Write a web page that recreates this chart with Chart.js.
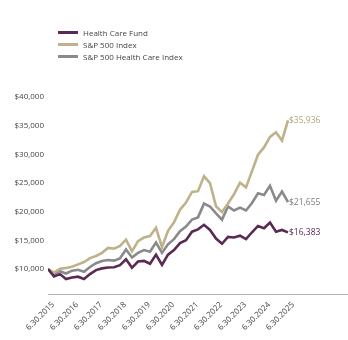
<!DOCTYPE html>
<html>
<head>
<meta charset="utf-8">
<script src="https://cdn.jsdelivr.net/npm/chart.js@4"></script>
<style>
  html, body { margin: 0; padding: 0; background: #fff; }
  #wrap { position: relative; width: 348px; height: 340px; }
  #legend { position: absolute; left: 58px; top: 26px; font: 8px 'Open Sans', sans-serif; color: #444; }
  .row { height: 12px; display: flex; align-items: center; }
  .sw { width: 20px; height: 3px; margin-right: 5px; }
</style>
</head>
<body>
<div id="wrap">
  <canvas id="growthChart" width="348" height="340"></canvas>
  <div id="legend"></div>
</div>
<script>
// --- Data (quarterly, 6/30/2015 - 6/30/2025) ---
const yearLabels = ['6.30.2015', '6.30.2016', '6.30.2017', '6.30.2018', '6.30.2019', '6.30.2020',
    '6.30.2021', '6.30.2022', '6.30.2023', '6.30.2024', '6.30.2025'];
const yTicks = [10000, 15000, 20000, 25000, 30000, 35000, 40000];
const seriesNames = ['Health Care Fund', 'S&P 500 Index', 'S&P 500 Health Care Index'];

const fundValues = [10000, 8700, 9100, 8250, 8500, 8650, 8250, 9100, 9800, 10100,
    10250, 10300, 10650, 11700, 10200, 11300, 11400, 10900, 12500, 10700,
    12500, 13300, 14500, 15000, 16500, 16900, 17700, 16800, 15300, 14400,
    15600, 15500, 15800, 15200, 16400, 17500, 17100, 18100, 16500, 16800, 16383];

const spValues = [10000, 9356, 10015, 10150, 10400, 10800, 11213, 11894, 12262, 12811,
    13661, 13557, 14022, 15103, 13061, 14844, 15482, 15745, 17173, 13807,
    16643, 18129, 20332, 21587, 23433, 23569, 26169, 24965, 20946, 19924,
    21430, 23038, 25051, 24232, 27064, 29922, 31203, 33042, 33838, 32393, 35936];

const hcValues = [10000, 9000, 9600, 9200, 9700, 9850, 9500, 10350, 11000, 11400,
    11550, 11450, 11850, 13400, 12000, 12800, 13300, 13000, 14600, 12800,
    14300, 15200, 16600, 17400, 18600, 19000, 21400, 20900, 19700, 18600,
    20900, 20200, 20700, 20200, 21500, 23200, 22900, 24500, 21900, 23500, 21655];

const colors = {
    purple: '#5a2a55',
    tan: '#bdb289',
    gray: '#8a8a8d'
};

const fontFamily = "'Open Sans', sans-serif";
const money = v => '$' + Math.round(v).toLocaleString('en-US');
const toPoints = arr => arr.map((v, i) => ({ x: i, y: v }));

// --- Legend ---
const legend = document.getElementById('legend');
[colors.purple, colors.tan, colors.gray].forEach((c, i) => {
    const row = document.createElement('div');
    row.className = 'row';
    row.innerHTML = `<span class="sw" style="background:${c}"></span><span>${seriesNames[i]}</span>`;
    legend.appendChild(row);
});

// --- End-of-line value labels ---
const endLabels = {
    id: 'endLabels',
    afterDatasetsDraw(chart) {
        const ctx = chart.ctx;
        ctx.save();
        ctx.font = '8.5px ' + fontFamily;
        ctx.textAlign = 'left';
        ctx.textBaseline = 'middle';
        chart.data.datasets.forEach((ds, i) => {
            const meta = chart.getDatasetMeta(i);
            const last = meta.data[meta.data.length - 1];
            ctx.fillStyle = ds.labelColor;
            ctx.fillText(money(ds.data[ds.data.length - 1].y), last.x + 1, last.y);
        });
        ctx.restore();
    }
};

const line = (label, values, color, labelColor) => ({
    label,
    data: toPoints(values),
    borderColor: color,
    backgroundColor: color,
    labelColor,
    borderWidth: 2.6,
    pointRadius: 0,
    tension: 0
});

new Chart(document.getElementById('growthChart'), {
    type: 'line',
    data: {
        datasets: [
            line(seriesNames[0], fundValues, colors.purple, colors.purple),
            line(seriesNames[1], spValues, colors.tan, '#b0a57a'),
            line(seriesNames[2], hcValues, colors.gray, '#7c7c80')
        ]
    },
    options: {
        responsive: false,
        animation: false,
        layout: { padding: { top: 97, right: 0, left: 0, bottom: 0 } },
        plugins: {
            legend: { display: false },
            tooltip: { enabled: false }
        },
        scales: {
            x: {
                type: 'linear',
                min: 0,
                max: 50,
                grid: { display: false, drawTicks: false },
                border: { display: true, color: '#b3b3b3', width: 1 },
                afterBuildTicks: scale => {
                    scale.ticks = yearLabels.map((_, i) => ({ value: i * 4 }));
                },
                afterFit: scale => { scale.height = 46; },
                ticks: {
                    autoSkip: false,
                    minRotation: 45,
                    maxRotation: 45,
                    padding: 6,
                    labelOffset: 5,
                    color: '#444',
                    font: { family: fontFamily, size: 8 },
                    callback: v => yearLabels[v / 4]
                }
            },
            y: {
                min: 5630,
                max: 40000,
                grid: { display: false, drawTicks: false },
                border: { display: false },
                afterBuildTicks: scale => {
                    scale.ticks = yTicks.map(v => ({ value: v }));
                },
                afterFit: scale => { scale.width = 48; },
                ticks: {
                    padding: 4,
                    color: '#444',
                    font: { family: fontFamily, size: 8 },
                    callback: v => money(v)
                }
            }
        }
    },
    plugins: [endLabels]
});
</script>
</body>
</html>
